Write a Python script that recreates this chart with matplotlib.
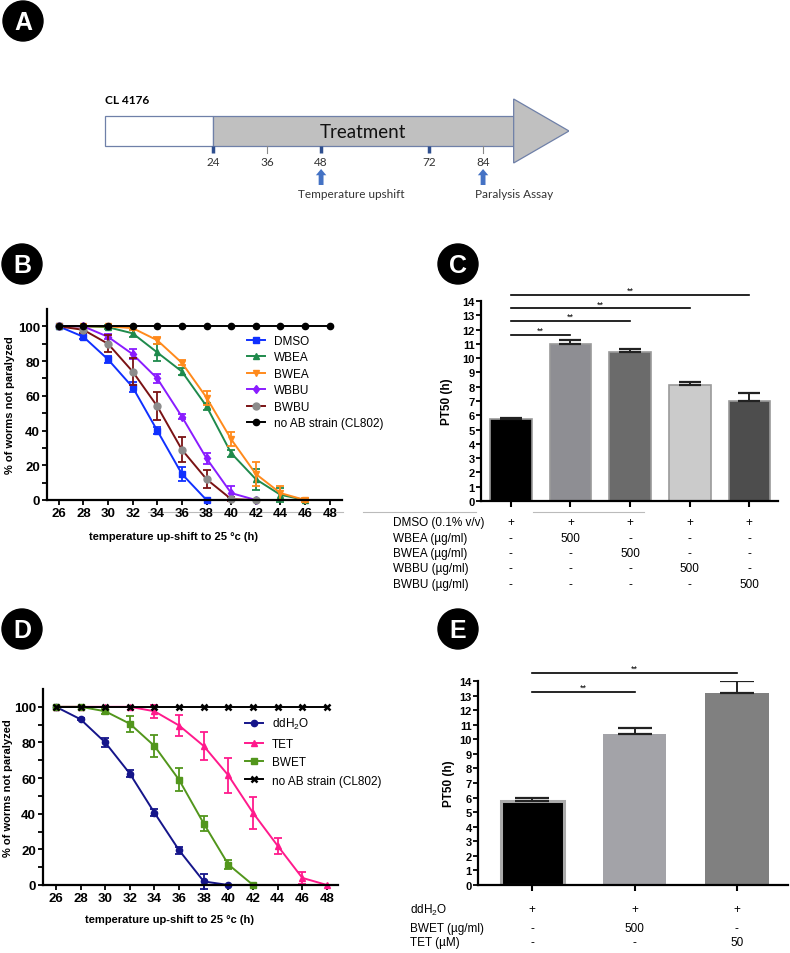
import numpy as np
import matplotlib
matplotlib.use('Agg')
import matplotlib.pyplot as plt
import matplotlib.transforms as mtransforms
from matplotlib.patches import Rectangle, Polygon, Circle

plt.rcParams['font.family'] = ['Liberation Sans', 'DejaVu Sans']
plt.rcParams['mathtext.default'] = 'regular'

W, H = 790, 954

# ---------------- panel A : timeline (hours)
stage_hours = [0, 24, 90.8, 103.1]
tick_hours = [24, 36, 48, 72, 84]
bold_ticks = [24, 48, 72]
event_hours = [48, 84]
event_labels = ['Temperature upshift', 'Paralysis Assay']
event_text_hours = [42.9, 82.2]

# ---------------- panel B : paralysis curves
hours = np.arange(26, 50, 2)
dmso = [100, 94, 81, 65, 40, 15, 0]
dmso_err = [0, 1.5, 2, 3, 2, 4, 0]
wbea = [100, 100, 99.5, 96, 85, 74, 54, 27, 12, 3, 0]
wbea_err = [0, 0, 1, 2, 5, 2, 2, 2, 6, 4, 0]
bwea = [100, 100, 100, 99, 92, 79, 59, 35, 15, 4, 0]
bwea_err = [0, 0, 0, 1, 2, 1.5, 4, 4, 7, 4, 1]
wbbu = [100, 100, 94, 84, 70, 48, 24, 4, 0]
wbbu_err = [0, 0, 1.5, 3, 2.5, 1.5, 3, 4, 0]
bwbu = [100, 98, 90, 74, 54, 29, 12, 0.5, 0]
bwbu_err = [0, 2, 5, 8, 8, 7, 5, 1, 0]
noab_b = [100] * 12

# ---------------- panel C : PT50 bars
c_vals = [5.75, 11.0, 10.4, 8.15, 7.0]
c_err = [0.05, 0.27, 0.24, 0.2, 0.57]
c_colors = ['#000000', '#8e8e93', '#6b6b6b', '#cbcbcb', '#4d4d4d']
c_rows = ['DMSO (0.1% v/v)', 'WBEA (\u00b5g/ml)', 'BWEA (\u00b5g/ml)', 'WBBU (\u00b5g/ml)', 'BWBU (\u00b5g/ml)']
c_cells = [['+', '+', '+', '+', '+'],
           ['-', '500', '-', '-', '-'],
           ['-', '-', '500', '-', '-'],
           ['-', '-', '-', '500', '-'],
           ['-', '-', '-', '-', '500']]
c_sig = [(0, 1, 11.64), (0, 2, 12.6), (0, 3, 13.5), (0, 4, 14.44)]

# ---------------- panel D : paralysis curves
ddh2o = [100, 93, 80, 62.5, 40.5, 19.5, 2, 0]
ddh2o_err = [0, 0.5, 2.5, 2, 2, 2, 4, 0]
tet = [100, 100, 100, 100, 97.5, 89.5, 78, 61.5, 40.5, 22, 4, 0]
tet_err = [0, 0, 0, 0, 3.5, 6, 8, 10, 9, 4.5, 3.5, 0]
bwet = [100, 100, 97.5, 90.5, 78, 59, 34.5, 11.5, 0]
bwet_err = [0, 0, 1.5, 4.5, 6, 6.5, 4, 2.5, 0]
noab_d = [100] * 12

# ---------------- panel E : PT50 bars
e_vals = [5.77, 10.39, 13.2]
e_err = [0.19, 0.41, 0.8]
e_colors = ['#000000', '#a3a3a8', '#808080']
e_rows = ['ddH$_2$O', 'BWET (\u00b5g/ml)', 'TET (\u00b5M)']
e_cells = [['+', '+', '+'],
           ['-', '500', '-'],
           ['-', '-', '50']]
e_sig = [(0, 1, 13.24), (0, 2, 14.56)]


def rect(l, t, r, b):
    return [l / W, 1 - b / H, (r - l) / W, (b - t) / H]


fig = plt.figure(figsize=(W / 100, H / 100), dpi=100)

# overlay in pixel units for panel badges and stray lines
ov = fig.add_axes([0, 0, 1, 1], zorder=-1)
ov.set_xlim(0, W)
ov.set_ylim(H, 0)
ov.axis('off')
for letter, cx, cy in [('A', 23, 22), ('B', 22, 265), ('C', 458, 265), ('D', 22, 630), ('E', 458, 630)]:
    ov.add_patch(Circle((cx, cy), 20, color='black'))
    ov.text(cx, cy + 1, letter, color='white', fontsize=18, fontweight='bold', ha='center', va='center')
for x0, x1 in [(148, 343), (363, 476), (533, 644)]:
    ov.plot([x0, x1], [513, 513], color='#bbbbbb', lw=0.8)

# ---------------- A
ax_a = fig.add_axes(rect(104, 90, 569, 205))
ax_a.set_xlim(-0.25, 103.1)
ax_a.set_ylim(205, 90)
ax_a.axis('off')
ax_a.add_patch(Rectangle((stage_hours[0], 117), stage_hours[1] - stage_hours[0], 30,
                         facecolor='white', edgecolor='#6f80a8', lw=0.9))
ax_a.add_patch(Rectangle((stage_hours[1], 117), stage_hours[2] - stage_hours[1], 30,
                         facecolor='#c0c0c0', edgecolor='#6f80a8', lw=0.9))
ax_a.add_patch(Polygon([(stage_hours[2], 100), (stage_hours[3], 132), (stage_hours[2], 164)],
                       closed=True, facecolor='#c0c0c0', edgecolor='#6f80a8', lw=0.9))
ax_a.text(57.3, 132, 'Treatment', fontsize=13.5, family='Lato', ha='center', va='center', color='#111111')
ax_a.text(0, 100, 'CL 4176', fontsize=8.5, family='Lato', fontweight='bold', ha='left', va='center')
for h in tick_hours:
    if h in bold_ticks:
        ax_a.plot([h, h], [147, 154], color='#2f4f8f', lw=2.5, solid_capstyle='butt')
    else:
        ax_a.plot([h, h], [147, 154], color='#8a8a8a', lw=0.8)
    ax_a.text(h, 163, str(h), fontsize=8.5, family='Lato', ha='center', va='center', color='#333333')
for h, lab, th in zip(event_hours, event_labels, event_text_hours):
    ax_a.annotate('', xy=(h, 170), xytext=(h, 186),
                  arrowprops=dict(arrowstyle='simple,head_width=0.75,head_length=0.45,tail_width=0.35',
                                  color='#4472c4', lw=0, shrinkA=0, shrinkB=0, mutation_scale=10))
    ax_a.text(th, 194, lab, fontsize=8.5, family='Lato', ha='left', va='center', color='#333333')


def style_axes(ax, lw=1.6):
    ax.set_facecolor('none')
    for s in ['top', 'right']:
        ax.spines[s].set_visible(False)
    for s in ['left', 'bottom']:
        ax.spines[s].set_linewidth(lw)


def bold_ticks_labels(ax):
    for lbl in ax.get_xticklabels() + ax.get_yticklabels():
        lbl.set_fontweight('bold')


def draw_series(ax, y, err, color, marker, label, mfc=None, ms=5, mew=1):
    x = hours[:len(y)]
    y = np.array(y, dtype=float)
    err = np.array(err, dtype=float)
    m = err > 0
    eb = ax.errorbar(x[m], y[m], yerr=err[m], fmt='none', ecolor=color, elinewidth=1.3,
                     capsize=2.8, capthick=1.3)
    for art in list(eb.lines[1]) + list(eb.lines[2]):
        art.set_clip_on(False)
    fc = mfc if mfc else color
    ax.plot(x, y, color=color, marker=marker, ms=ms, mfc=fc, mec=fc, mew=mew, lw=1.4,
            label=label, clip_on=False)


def curve_axes(ax, ylab_x, xlab_y):
    style_axes(ax)
    ax.set_ylim(0, 110)
    ax.set_xticks(hours)
    ax.set_yticks(np.arange(0, 101, 20))
    ax.set_yticks(np.arange(10, 110, 20), minor=True)
    ax.tick_params(axis='both', which='major', direction='out', length=3.5, width=1.3,
                   labelsize=9.5, pad=1.5)
    ax.tick_params(axis='y', which='minor', direction='out', length=3.5, width=1.3)
    bold_ticks_labels(ax)
    ax.set_ylabel('% of worms not paralyzed', fontsize=8, fontweight='bold')
    ax.set_xlabel('temperature up-shift to 25 \u00b0c (h)', fontsize=8, fontweight='bold')
    ax.yaxis.set_label_coords(ylab_x, 0.5)
    ax.xaxis.set_label_coords(0.43, xlab_y)


# ---------------- B
ax_b = fig.add_axes(rect(47, 310, 342, 501))
ax_b.set_xlim(25.05, 49.0)
draw_series(ax_b, dmso, dmso_err, '#1030ff', 's', 'DMSO')
draw_series(ax_b, wbea, wbea_err, '#1f8a4c', '^', 'WBEA')
draw_series(ax_b, bwea, bwea_err, '#ff8a1c', 'v', 'BWEA')
draw_series(ax_b, wbbu, wbbu_err, '#8a1cff', 'd', 'WBBU', ms=4.5)
draw_series(ax_b, bwbu, bwbu_err, '#7a1214', 'o', 'BWBU', mfc='#8c8c8c')
draw_series(ax_b, noab_b, [0] * 12, '#000000', 'o', 'no AB strain (CL802)', ms=4.5)
curve_axes(ax_b, -0.108, -0.162)
ax_b.legend(loc='upper left', bbox_to_anchor=(0.678, 0.864), frameon=False, fontsize=8.5,
            borderpad=0, borderaxespad=0, handlelength=1.55, handletextpad=0.7, labelspacing=0.38)

# ---------------- D
ax_d = fig.add_axes(rect(43, 690, 338, 886))
ax_d.set_xlim(24.95, 48.9)
draw_series(ax_d, ddh2o, ddh2o_err, '#15158a', 'o', 'ddH$_2$O', ms=4.5)
draw_series(ax_d, tet, tet_err, '#ff1a8c', '^', 'TET', ms=4.5)
draw_series(ax_d, bwet, bwet_err, '#52961c', 's', 'BWET', ms=5)
draw_series(ax_d, noab_d, [0] * 12, '#000000', 'x', 'no AB strain (CL802)', ms=4, mew=1.8)
curve_axes(ax_d, -0.10, -0.148)
ax_d.legend(loc='upper left', bbox_to_anchor=(0.685, 0.862), frameon=False, fontsize=8.5,
            borderpad=0, borderaxespad=0, handlelength=1.55, handletextpad=0.7, labelspacing=0.55)


# ---------------- bar panels
def bar_panel(ax, vals, errs, colors, edge, width, capsize, rows, cells, row_y, lab_x, ylab_x, sig, star_dy):
    style_axes(ax)
    x = np.arange(len(vals))
    ax.bar(x, vals, width=width, color=colors, edgecolor=edge, lw=1.2 if edge != 'none' else 0, zorder=2)
    ax.errorbar(x, vals, yerr=[np.zeros(len(vals)), errs], fmt='none', ecolor='#222222',
                elinewidth=1.4, capsize=capsize, capthick=1.6, zorder=3)
    ax.set_ylim(0, 14)
    ax.set_yticks(np.arange(0, 15, 1))
    ax.set_xticks(x)
    ax.set_xticklabels([''] * len(x))
    ax.tick_params(axis='y', direction='out', length=3.5, width=1.3, labelsize=8, pad=1)
    ax.tick_params(axis='x', direction='out', length=4.5, width=1.5)
    bold_ticks_labels(ax)
    ax.set_ylabel('PT50 (h)', fontsize=8.5, fontweight='bold')
    ax.yaxis.set_label_coords(ylab_x, 0.5)
    tr_lab = mtransforms.blended_transform_factory(fig.transFigure, ax.transAxes)
    tr_val = ax.get_xaxis_transform()
    for label, row, y in zip(rows, cells, row_y):
        ax.text(lab_x / W, y, label, transform=tr_lab, ha='left', va='center', fontsize=8.5)
        for i, v in enumerate(row):
            ax.text(i, y, v, transform=tr_val, ha='center', va='center', fontsize=8.5)
    for a, b, y in sig:
        ax.plot([a, b], [y, y], color='black', lw=1.2, clip_on=False)
        ax.text((a + b) / 2, y + star_dy, '**', fontsize=6.5, ha='center', va='center')


ax_c = fig.add_axes(rect(481, 302, 778, 502))
ax_c.set_xlim(-0.5, 4.48)
bar_panel(ax_c, c_vals, c_err, c_colors, '#9a9a9a', 0.7, 8, c_rows, c_cells,
          [-0.105, -0.1835, -0.2585, -0.3365, -0.415], 393, -0.094, c_sig, 0.3)

ax_e = fig.add_axes(rect(478, 682, 788, 886))
ax_e.set_xlim(-0.53, 2.5)
bar_panel(ax_e, e_vals, e_err, e_colors, 'none', 0.62, 12, e_rows, e_cells,
          [-0.118, -0.211, -0.28], 410, -0.074, e_sig, 0.35)
ax_e.patches[0].set_edgecolor('#aaaaaa')
ax_e.patches[0].set_linewidth(2.2)

fig.savefig('out.png', dpi=100)
